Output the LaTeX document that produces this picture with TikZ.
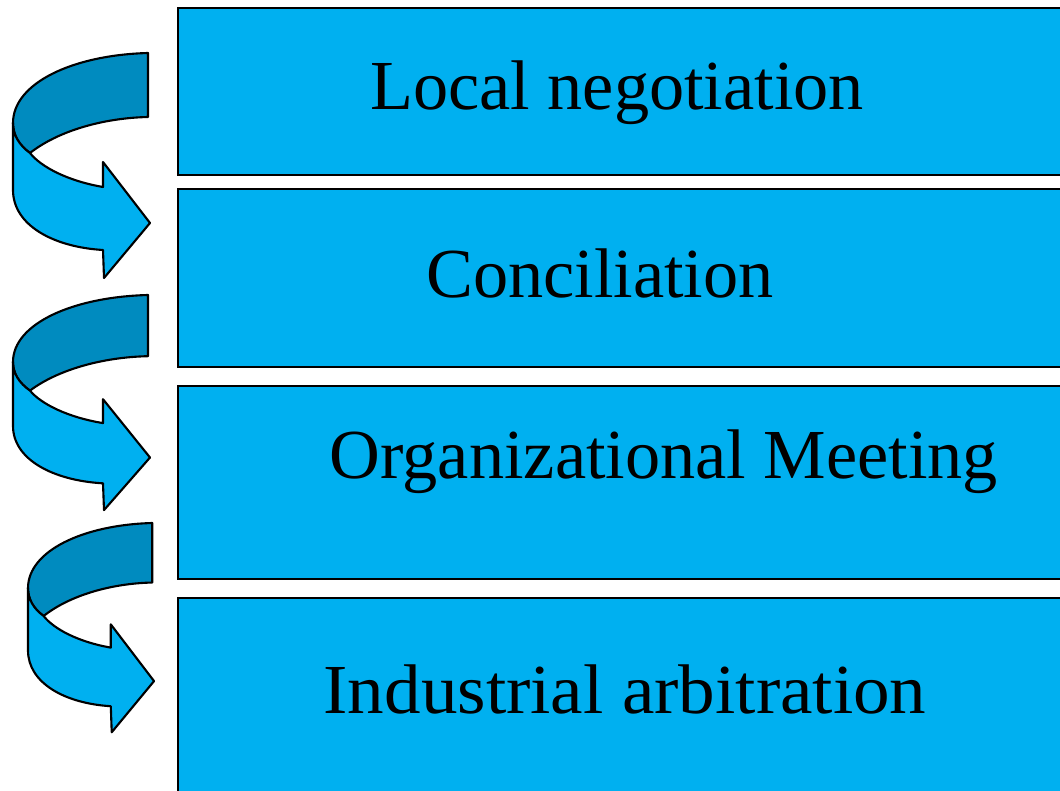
\documentclass[tikz,border=0pt]{standalone}
\usepackage{fontspec}
\setmainfont{Liberation Serif}
\usepackage{tikz}

\definecolor{stepblue}{HTML}{00B0F0}
\definecolor{bandblue}{HTML}{008BBF}

% curled ribbon arrow, local units: shift x, shift y, xscale, yscale
\newcommand{\curlarrow}[4]{%
  \begin{scope}[shift={(#1,#2)},xscale=#3,yscale=#4]
    \path[draw,fill=bandblue,line width=1.2pt,line join=round]
      (135,0) .. controls (60,2) and (0,30) .. (0,70)
      .. controls (0,82) and (6,92) .. (17,100)
      .. controls (45,78) and (90,65) .. (135,64) -- cycle;
    \path[draw,fill=stepblue,line width=1.2pt,line join=round]
      (0,70) -- (0,137) .. controls (0,172) and (40,194) .. (90,197)
      -- (91,225) -- (137,170) -- (90,109) -- (90,134)
      .. controls (55,128) and (28,114) .. (17,100)
      .. controls (6,92) and (0,82) .. (0,70) -- cycle;
  \end{scope}}

\tikzset{
  stagebox/.style={draw,fill=stepblue,line width=1.1pt},
  stagetext/.style={anchor=base,inner sep=0pt,font=\fontsize{40}{48}\selectfont}
}

\begin{document}
\begin{tikzpicture}[x=0.02cm,y=-0.02cm]
  \useasboundingbox (0,0) rectangle (1060,790);

  % the four steps
  \path[stagebox] (178,8) rectangle (1075,175);
  \path[stagebox] (178,189) rectangle (1075,367);
  \path[stagebox] (178,386) rectangle (1075,579);
  \path[stagebox] (178,598) rectangle (1075,800);

  \node[stagetext] (local) at (617,110) {Local negotiation};
  \node[stagetext] (concil) at (600,297) {Conciliation};
  \node[stagetext] (organ) at (664,478) {Organizational Meeting};
  \node[stagetext,xscale=1.04] (arbit) at (625,713) {Industrial arbitration};

  % curled arrows down the left side
  \curlarrow{13}{53}{1}{1}
  \curlarrow{13}{295}{1}{.956}
  \curlarrow{28}{523}{.92}{.93}
\end{tikzpicture}
\end{document}
